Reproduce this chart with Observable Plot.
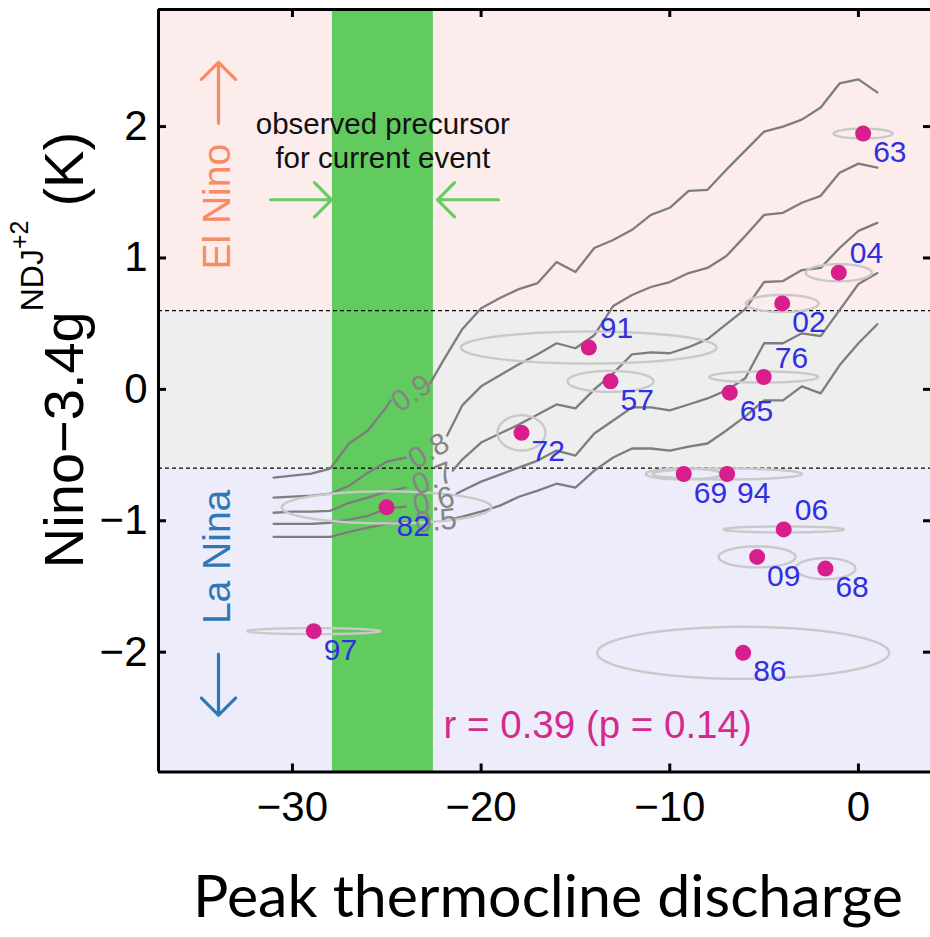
<!DOCTYPE html>
<html>
<head>
<meta charset="utf-8">
<script src="https://cdn.jsdelivr.net/npm/d3@7"></script>
<script src="https://cdn.jsdelivr.net/npm/@observablehq/plot@0.6"></script>
<style>
html,body{margin:0;padding:0;background:#fff;overflow:hidden;}
#chart svg{display:block;}
</style>
</head>
<body>
<div id="chart"></div>
<script>
// ---------------- data ----------------
const xDomain = [-37.1, 3.82];
const yDomain = [-2.912, 2.891];
const xTicks = [-30, -20, -10, 0];
const yTicks = [-2, -1, 0, 1, 2];

const regimeNames = ["El Nino", "Neutral", "La Nina"];
const regimeLow = [0.6, -0.6, yDomain[0]];
const regimeHigh = [yDomain[1], 0.6, -0.6];
const regimeThresholds = [0.6, -0.6];

const precursorRange = [-27.88, -22.53];

const years = ["63","04","02","91","57","72","82","76","65","69","94","06","09","68","97","86"];
const discharge = [0.25,-1.04,-4.04,-14.29,-13.14,-17.86,-25.01,-5.02,-6.82,-9.26,-6.96,-3.96,-5.37,-1.75,-28.87,-6.11];
const nino = [1.947,0.888,0.654,0.318,0.061,-0.331,-0.898,0.094,-0.025,-0.644,-0.644,-1.066,-1.275,-1.364,-1.840,-2.005];
const spreadX = [1.56,1.75,1.93,6.78,2.28,1.27,5.56,2.89,0,2.01,3.97,3.18,2.04,1.59,3.52,7.74];
const spreadY = [0.038,0.065,0.065,0.122,0.080,0.134,0.122,0.042,0,0.042,0.042,0.023,0.080,0.080,0.023,0.198];
const labelSide = ["below","above","below","above","below","below","below","above","below","below","below","above","below","below","below","below"];

const contourLevels = ["0.9","0.8","0.7","0.6","0.5"];
const contourLabelX = [-23.68,-22.78,-22.56,-22.51,-22.40];
const contourLabelY = [-0.03,-0.47,-0.68,-0.85,-1.00];
const contourLabelAngle = [-35,-30,-22,-14,-6];

const line09 = [[-31,-0.672],[-30,-0.656],[-29,-0.641],[-28,-0.603],[-27,-0.412],[-26,-0.313],[-25,-0.130],[-24.8,-0.084],[-23.7,null],[-22.7,0.046],[-22,0.221],[-21,0.458],[-20,0.618],[-19,0.695],[-18,0.763],[-17,0.809],[-16,0.969],[-15,0.893],[-14,1.076],[-13,1.137],[-12,1.214],[-11,1.328],[-10,1.382],[-9,1.511],[-8,1.519],[-7,1.672],[-6,1.817],[-5,1.962],[-4,2.000],[-3,2.053],[-2,2.145],[-1,2.328],[0,2.359],[1,2.260]];
const line08 = [[-31,-0.824],[-30,-0.817],[-29,-0.809],[-28,-0.794],[-27,-0.733],[-26,-0.634],[-25,-0.550],[-24,-0.519],[-23,null],[-21.8,-0.351],[-21,-0.122],[-20,0.023],[-19,0.107],[-18,0.191],[-17,0.267],[-16,0.351],[-15,0.313],[-14,0.412],[-13,0.634],[-12,0.718],[-11,0.779],[-10,0.817],[-9,0.885],[-8,0.924],[-7,1.015],[-6,1.168],[-5,1.328],[-4,1.344],[-3,1.420],[-2,1.473],[-1,1.649],[0,1.718],[1,1.687]];
const line07 = [[-31,-0.939],[-30,-0.931],[-29,-0.931],[-28,-0.924],[-27,-0.863],[-26,-0.824],[-25,-0.779],[-24,-0.748],[-23,null],[-21.5,-0.618],[-21,-0.534],[-20,-0.405],[-19,-0.336],[-18,-0.267],[-17,-0.191],[-16,-0.115],[-15,-0.145],[-14,0.000],[-13,0.122],[-12,0.267],[-11,0.282],[-10,0.275],[-9,0.321],[-8,0.382],[-7,0.496],[-6,0.611],[-5,0.817],[-4,0.824],[-3,0.908],[-2,0.924],[-1,1.076],[0,1.206],[1,1.267]];
const line06 = [[-31,-1.023],[-30,-1.023],[-29,-1.023],[-28,-1.015],[-27,-0.992],[-26,-0.962],[-25,-0.908],[-24,-0.893],[-23,null],[-21.3,-0.794],[-21,-0.771],[-20,-0.702],[-19,-0.649],[-18,-0.595],[-17,-0.542],[-16,-0.466],[-15,-0.504],[-14,-0.336],[-13,-0.237],[-12,-0.137],[-11,-0.137],[-10,-0.160],[-9,-0.115],[-8,-0.069],[-7,-0.008],[-6,0.084],[-5,0.351],[-4,0.351],[-3,0.427],[-2,0.405],[-1,0.603],[0,0.802],[1,0.885]];
const line05 = [[-31,-1.122],[-30,-1.122],[-29,-1.122],[-28,-1.122],[-27,-1.084],[-26,-1.053],[-25,-1.023],[-24,-1.008],[-23,null],[-21.5,-0.985],[-21,-0.969],[-20,-0.931],[-19,-0.885],[-18,-0.817],[-17,-0.771],[-16,-0.718],[-15,-0.748],[-14,-0.618],[-13,-0.519],[-12,-0.450],[-11,-0.450],[-10,-0.466],[-9,-0.435],[-8,-0.412],[-7,-0.313],[-6,-0.206],[-5,-0.084],[-4,-0.084],[-3,0.023],[-2,-0.031],[-1,0.183],[0,0.351],[1,0.496]];

const correlationText = ["r = 0.39 (p = 0.14)"];
const correlationPos = [-21.99, -2.56];
const precursorText = ["observed precursor\nfor current event"];
const precursorPos = [-25.21, 1.898];
const regimeLabels = ["El Nino", "La Nina"];
const regimeLabelX = [-33.97, -33.97];
const regimeLabelY = [1.39, -1.275];
const arrowX = [-33.92, -33.92, -31.16, -19.08];
const arrowY = [2.025, -2.015, 1.443, 1.443];
const arrowDir = [0, 180, 90, -90];
const arrowKind = ["El Nino", "La Nina", "precursor", "precursor"];

// ---------------- styles ----------------
const FONT = "'Liberation Sans', Arial, Helvetica, sans-serif";
const regimeFill = {"El Nino": "#fdecec", "Neutral": "#eeeeee", "La Nina": "#ececfb"};
const arrowColor = {"El Nino": "#f98a62", "La Nina": "#2f78b7", "precursor": "#66cc66"};
const MAGENTA = "#d81e8c";
const BLUE = "#3030e0";

// ---------------- derived tables ----------------
const regimes = regimeNames.map((name, i) => ({name, lo: regimeLow[i], hi: regimeHigh[i]}));
const events = years.map((year, i) => ({year, x: discharge[i], y: nino[i], rx: spreadX[i], ry: spreadY[i], side: labelSide[i]}));
const ellipses = events.filter(d => d.rx > 0).flatMap(d =>
  d3.range(73).map(k => {
    const t = (k / 72) * 2 * Math.PI;
    return {year: d.year, x: d.x + d.rx * Math.cos(t), y: d.y + d.ry * Math.sin(t)};
  }));
const contourLines = [line09, line08, line07, line06, line05];
const contours = contourLevels.flatMap((level, i) => contourLines[i].map(([x, y]) => ({level, x, y})));
const contourLabels = contourLevels.map((t, i) => ({t, x: contourLabelX[i], y: contourLabelY[i], a: contourLabelAngle[i]}));
const arrows = arrowX.map((x, i) => ({x, y: arrowY[i], rot: arrowDir[i], c: arrowColor[arrowKind[i]]}));
const regimeText = regimeLabels.map((t, i) => ({t, x: regimeLabelX[i], y: regimeLabelY[i], c: arrowColor[t]}));

const fmt = d => d < 0 ? "\u2212" + (-d) : String(d);

const W = 930, H = 937, mL = 158, mR = 0, mT = 9, mB = 165.5;
const frameW = W - mL - mR, frameH = H - mT - mB;

const chart = Plot.plot({
  width: W, height: H,
  marginLeft: mL, marginRight: mR, marginTop: mT, marginBottom: mB,
  style: {fontFamily: FONT, background: "#fff", overflow: "visible"},
  x: {domain: xDomain},
  y: {domain: yDomain},
  color: {type: "identity"},
  marks: [
    Plot.rect(regimes, {x1: () => xDomain[0], x2: () => xDomain[1], y1: "lo", y2: "hi", fill: d => regimeFill[d.name]}),
    Plot.rect([precursorRange], {x1: d => d[0], x2: d => d[1], y1: () => yDomain[0], y2: () => yDomain[1], fill: "#62cb5f"}),
    Plot.ruleY(regimeThresholds, {stroke: "#000", strokeWidth: 1.3, strokeDasharray: "4,3"}),
    Plot.line(contours, {x: "x", y: "y", z: "level", stroke: "#7d7d7d", strokeWidth: 2.3}),
    Plot.line(ellipses, {x: "x", y: "y", z: "year", stroke: "#c9c9c9", strokeWidth: 2.4}),
    Plot.text(contourLabels, {x: "x", y: "y", text: "t", rotate: "a", fill: "#858585", fontSize: 30}),
    Plot.dot(events, {x: "x", y: "y", r: 8, fill: MAGENTA}),
    Plot.text(events.filter(d => d.side === "below"), {x: "x", y: "y", text: "year", textAnchor: "start", dx: 10, dy: 19, fill: BLUE, fontSize: 30}),
    Plot.text(events.filter(d => d.side === "above"), {x: "x", y: "y", text: "year", textAnchor: "start", dx: 11, dy: -19, fill: BLUE, fontSize: 30}),
    Plot.text(correlationText, {x: () => correlationPos[0], y: () => correlationPos[1], text: d => d, textAnchor: "start", fill: "#d42a8e", fontSize: 38.5}),
    Plot.text(precursorText, {x: () => precursorPos[0], y: () => precursorPos[1], text: d => d, fill: "#111", fontSize: 29.5, lineHeight: 1.14}),
    Plot.text(regimeText, {x: "x", y: "y", text: "t", rotate: -90, fill: "c", fontSize: 39}),
    Plot.vector(arrows, {x: "x", y: "y", rotate: "rot", length: 61, anchor: "start", stroke: "c", strokeWidth: 3.2, r: 4.9}),
    Plot.axisX(xTicks, {tickSize: 0, tickPadding: 19, fontSize: 42, tickFormat: fmt, label: null}),
    Plot.axisY(yTicks, {tickSize: 0, tickPadding: 11, fontSize: 42, tickFormat: fmt, label: null}),
    Plot.tickX(xTicks, {insetTop: frameH - 8, strokeWidth: 3, stroke: "#000"}),
    Plot.tickX(xTicks, {insetBottom: frameH - 8, strokeWidth: 3, stroke: "#000"}),
    Plot.tickY(yTicks, {insetRight: frameW - 8, strokeWidth: 3, stroke: "#000"}),
    Plot.tickY(yTicks, {insetLeft: frameW - 7, strokeWidth: 3, stroke: "#000"}),
    Plot.ruleX([xDomain[0]], {strokeWidth: 3, stroke: "#000"}),
    Plot.ruleY([yDomain[0], yDomain[1]], {strokeWidth: 3, stroke: "#000"})
  ]
});

document.getElementById("chart").appendChild(chart);

// axis titles
const svg = d3.select(chart);
const yl = svg.append("text")
  .attr("transform", "translate(83,350) rotate(-90)")
  .attr("text-anchor", "middle")
  .attr("font-family", FONT)
  .attr("font-size", 56)
  .attr("fill", "#000");
yl.append("tspan").text("Nino\u22123.4g");
yl.append("tspan").attr("font-size", 32).attr("dy", -40).text("NDJ");
yl.append("tspan").attr("font-size", 25).attr("dy", -15).text("+2");
yl.append("tspan").attr("font-size", 56).attr("dy", 55).attr("dx", 14).text("(K)");

svg.append("text")
  .attr("x", 548).attr("y", 917)
  .attr("text-anchor", "middle")
  .attr("font-family", "Lato, 'Open Sans', sans-serif")
  .attr("font-size", 58)
  .attr("textLength", 710)
  .attr("lengthAdjust", "spacingAndGlyphs")
  .attr("fill", "#000")
  .text("Peak thermocline discharge");
</script>
</body>
</html>
